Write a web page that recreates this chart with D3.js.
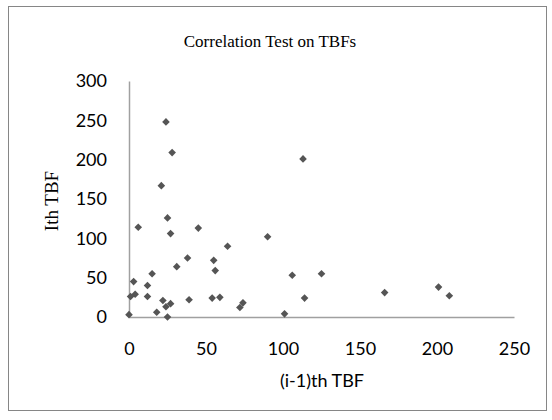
<!DOCTYPE html>
<html><head><meta charset="utf-8">
<script src="https://cdn.jsdelivr.net/npm/d3@7"></script>
<style>body{margin:0;background:#fff}</style>
</head><body>
<svg id="c" width="552" height="420"></svg>
<script>
const title = "Correlation Test on TBFs";
const xTitle = "(i-1)th TBF";
const yTitle = "Ith TBF";
const xTicks = [0, 50, 100, 150, 200, 250];
const yTicks = [0, 50, 100, 150, 200, 250, 300];
const prevTBF = [0, 1, 4, 3, 6, 12, 12, 15, 18, 21, 22, 24, 27, 25, 24, 28, 25, 27, 31, 38, 39, 45, 54, 55, 56, 59, 64, 72, 74, 90, 101, 106, 113, 114, 125, 166, 201, 208];
const currTBF = [3, 26, 29, 45, 114, 40, 26, 55, 6, 167, 21, 13, 17, 0, 248, 209, 126, 106, 64, 75, 22, 113, 24, 72, 59, 25, 90, 12, 18, 102, 4, 53, 201, 24, 55, 31, 38, 27];

const svg = d3.select("#c");
svg.append("rect").attr("x", 8.5).attr("y", 6.5).attr("width", 538).attr("height", 404)
  .attr("fill", "#fff").attr("stroke", "#868686").attr("stroke-width", 1);

const x = d3.scaleLinear().domain([0, 250]).range([129, 514]);
const y = d3.scaleLinear().domain([0, 300]).range([317, 81]);

const sans = "Lato, 'Open Sans', sans-serif";
const serif = "'Liberation Serif', 'Times New Roman', serif";

svg.append("text").attr("x", 270).attr("y", 47).attr("text-anchor", "middle")
  .attr("font-family", serif).attr("font-size", 17).attr("fill", "#000").text(title);

const gx = svg.append("g").attr("transform", "translate(0,317)")
  .call(d3.axisBottom(x).tickValues(xTicks).tickSize(0).tickPadding(25).tickFormat(d3.format("d")));
const gy = svg.append("g").attr("transform", "translate(129,0)")
  .call(d3.axisLeft(y).tickValues(yTicks).tickSize(0).tickPadding(22).tickFormat(d3.format("d")));
[gx, gy].forEach(g => {
  g.select(".domain").attr("stroke", "#a0a0a0").attr("stroke-width", 1.5);
  g.selectAll("text").attr("font-family", sans).attr("font-size", 18).attr("fill", "#000");
});

svg.append("text").attr("x", 322).attr("y", 387).attr("text-anchor", "middle")
  .attr("font-family", sans).attr("font-size", 18).attr("fill", "#000").text(xTitle);
svg.append("text").attr("transform", "translate(58,201) rotate(-90)").attr("text-anchor", "middle")
  .attr("font-family", serif).attr("font-size", 19).attr("fill", "#000").text(yTitle);

const pts = prevTBF.map((v, i) => ({x: v, y: currTBF[i]}));
svg.append("g").selectAll("path").data(pts).join("path")
  .attr("transform", d => `translate(${x(d.x)},${y(d.y)})`)
  .attr("d", "M0,-3.8L3.8,0L0,3.8L-3.8,0Z")
  .attr("fill", "#555555");
</script>
</body></html>
